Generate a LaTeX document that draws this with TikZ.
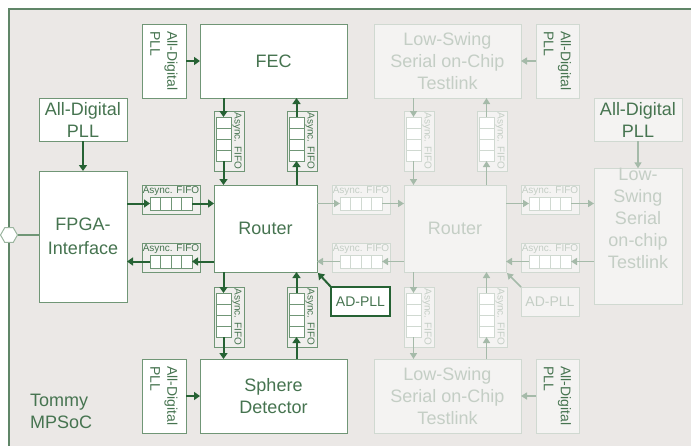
\documentclass[tikz,border=0pt]{standalone}
\usepackage{fontspec}
\setmainfont{Liberation Sans}
\usetikzlibrary{arrows.meta, calc, shapes.geometric}

\definecolor{bgc}{RGB}{235,232,230}
\definecolor{framec}{RGB}{96,134,104}
\definecolor{boxc}{RGB}{112,150,118}
\definecolor{txtc}{RGB}{70,116,80}
\definecolor{arrc}{RGB}{38,98,52}
\definecolor{fifobg}{RGB}{240,239,237}
\definecolor{fboxc}{RGB}{208,217,209}
\definecolor{ftxtc}{RGB}{196,206,197}
\definecolor{ffillc}{RGB}{244,243,242}
\definecolor{farrc}{RGB}{165,186,169}

\tikzset{
  blk/.style={draw=boxc, fill=white, line width=1pt, text=txtc, align=center,
    inner sep=0pt, outer sep=0pt, font=\fontsize{18}{22}\selectfont},
  fblk/.style={blk, draw=fboxc, fill=ffillc, text=ftxtc},
  plltxt/.style={rotate=-90, align=left, text=txtc, inner sep=0pt,
    font=\fontsize{14}{17}\selectfont},
  arr/.style={draw=arrc, line width=2pt, -{Triangle[length=6pt, width=8pt]}},
  farr/.style={draw=farrc, line width=1.6pt, -{Triangle[length=6pt, width=7pt]}},
  fifom/.style={draw=boxc, fill=fifobg, line width=0.8pt, inner sep=0pt, outer sep=0pt},
  fifof/.style={draw=fboxc, fill=ffillc, line width=0.8pt, inner sep=0pt, outer sep=0pt},
  cellm/.style={draw=boxc, fill=white, line width=0.8pt, inner sep=0pt, outer sep=0pt},
  cellf/.style={draw=fboxc, fill=white, line width=0.8pt, inner sep=0pt, outer sep=0pt},
  fifotextm/.style={text=txtc, inner sep=0pt, font=\fontsize{10}{12}\selectfont},
  fifotextf/.style={text=ftxtc, inner sep=0pt, font=\fontsize{10}{12}\selectfont}
}

% vertical fifo: name, left, top, look (m/f)
\newcommand{\vfifo}[4]{%
  \node[fifo#4, minimum width=30pt, minimum height=60pt, anchor=north west] (#1) at (#2,#3) {};
  \node[cell#4, minimum width=15pt, minimum height=44pt, anchor=north west] (#1c) at ($(#1.north west)+(2,6)$) {};
  \foreach \k in {1,2,3} \draw[cell#4] ($(#1c.north west)+(0,11*\k)$) -- ++(15,0);
  \node[fifotext#4, rotate=-90] at ($(#1.east)+(-7,0)$) {Async. FIFO};
}
% horizontal fifo: name, left, top, look (m/f)
\newcommand{\hfifo}[4]{%
  \node[fifo#4, minimum width=58pt, minimum height=29pt, anchor=north west] (#1) at (#2,#3) {};
  \node[cell#4, minimum width=42pt, minimum height=13pt, anchor=north west] (#1c) at ($(#1.north west)+(8,12)$) {};
  \foreach \k in {1,2,3} \draw[cell#4] ($(#1c.north west)+(10.5*\k,0)$) -- ++(0,13);
  \node[fifotext#4] at ($(#1.north)+(0,6.5)$) {Async. FIFO};
}

\begin{document}
\begin{tikzpicture}[x=1pt, y=-1pt]

    % ── Canvas and chip frame ────────────────────────────────────────────────
    \useasboundingbox (0,0) rectangle (691,445);
    \clip (0,0) rectangle (691,445);
    \fill[white] (0,0) rectangle (691,445);
    \filldraw[fill=bgc, draw=framec, line width=2pt] (9,9) rectangle (720,470);

    % ── Active half: blocks ──────────────────────────────────────────────────
    \node[blk, minimum width=147pt, minimum height=74pt] (fec) at (273.5,61) {FEC};
    \node[blk, minimum width=44pt, minimum height=74pt] (pllFec) at (164,61) {};
    \node[plltxt] (pllFecT) at (pllFec) {All-Digital\\PLL};

    \node[blk, minimum width=88pt, minimum height=43pt] (pllFpga) at (83,119.5) {All-Digital\\PLL};
    \node[blk, minimum width=88pt, minimum height=131pt] (fpga) at (83,236.5) {FPGA-\\[2pt]Interface};

    \node[blk, minimum width=103pt, minimum height=87pt] (router) at (265.5,228.5) {Router};

    \node[blk, minimum width=147pt, minimum height=74pt] (sphere) at (273.5,396) {Sphere\\Detector};
    \node[blk, minimum width=44pt, minimum height=74pt] (pllSph) at (164,396) {};
    \node[plltxt] (pllSphT) at (pllSph) {All-Digital\\PLL};

    \node[blk, draw=arrc, line width=1.4pt, minimum width=59pt, minimum height=29pt,
          font=\fontsize{14}{17}\selectfont] (adpll) at (360.5,301.5) {AD-PLL};

    \node[regular polygon, regular polygon sides=6, draw=boxc!70, fill=white,
          line width=1pt, minimum size=17pt, inner sep=0pt] (pin) at (9,235) {};

    \node[anchor=west, align=left, text=txtc, inner sep=0pt,
          font=\fontsize{18}{22}\selectfont] (chip) at (30,411) {Tommy\\MPSoC};

    % ── Active half: fifos ───────────────────────────────────────────────────
    \vfifo{v1}{214}{111}{m}
    \vfifo{v2}{287}{111}{m}
    \vfifo{v3}{214}{287}{m}
    \vfifo{v4}{287}{287}{m}
    \hfifo{h1}{142}{185}{m}
    \hfifo{h2}{142}{243}{m}

    % ── Faded half: blocks ───────────────────────────────────────────────────
    \node[fblk, minimum width=147pt, minimum height=74pt] (lsTop) at (447.5,61) {Low-Swing\\Serial on-Chip\\Testlink};
    \node[fblk, minimum width=43pt, minimum height=74pt] (pllTop) at (557.5,61) {};
    \node[plltxt] (pllTopT) at (pllTop) {All-Digital\\PLL};

    \node[fblk, text=txtc, minimum width=88pt, minimum height=43pt] (pllRight) at (638,119.5) {All-Digital\\PLL};
    \node[fblk, minimum width=88pt, minimum height=131pt] (lsRight) at (638,236.5) {Low-\\Swing\\Serial\\on-chip\\Testlink\\[14pt]};

    \node[fblk, minimum width=102pt, minimum height=87pt] (router2) at (455,228.5) {Router};

    \node[fblk, minimum width=147pt, minimum height=74pt] (lsBot) at (447.5,396) {Low-Swing\\Serial on-Chip\\Testlink};
    \node[fblk, minimum width=43pt, minimum height=74pt] (pllBot) at (557.5,396) {};
    \node[plltxt] (pllBotT) at (pllBot) {All-Digital\\PLL};

    \node[fblk, minimum width=58pt, minimum height=29pt,
          font=\fontsize{14}{17}\selectfont] (adpll2) at (550,301.5) {AD-PLL};

    % ── Faded half: fifos ────────────────────────────────────────────────────
    \vfifo{v5}{404}{111}{f}
    \vfifo{v6}{477}{111}{f}
    \vfifo{v7}{404}{287}{f}
    \vfifo{v8}{477}{287}{f}
    \hfifo{h3}{332}{185}{f}
    \hfifo{h4}{332}{243}{f}
    \hfifo{h5}{521}{185}{f}
    \hfifo{h6}{521}{243}{f}

    % ── Active connectors ────────────────────────────────────────────────────
    \draw[boxc, line width=1.5pt] (pin) -- (pin -| fpga.west);
    \draw[arr] (pllFec) -- (fec.west);
    \draw[arr] (pllFpga) -- (fpga.north);
    \draw[arr] (pllSph) -- (sphere.west);

    \draw[arr] (fec.south -| v1c) -- (v1c.north);
    \draw[arr] (v1c.south) -- (router.north -| v1c);
    \draw[arr] (router.north -| v2c) -- (v2c.south);
    \draw[arr] (v2c.north) -- (fec.south -| v2c);

    \draw[arr] (router.south -| v3c) -- (v3c.north);
    \draw[arr] (v3c.south) -- (sphere.north -| v3c);
    \draw[arr] (sphere.north -| v4c) -- (v4c.south);
    \draw[arr] (v4c.north) -- (router.south -| v4c);

    \draw[arr] (fpga.east |- h1c) -- (h1c.west);
    \draw[arr] (h1c.east) -- (router.west |- h1c);
    \draw[arr] (router.west |- h2c) -- (h2c.east);
    \draw[arr] (h2c.west) -- (fpga.east |- h2c);

    \draw[arr] (adpll.north west) -- ($(router.south east)+(1,1)$);

    % ── Faded connectors ─────────────────────────────────────────────────────
    \draw[farr] (router.east |- h3c) -- (h3c.west);
    \draw[farr] (h3c.east) -- (router2.west |- h3c);
    \draw[farr] (router2.west |- h4c) -- (h4c.east);
    \draw[farr] (h4c.west) -- (router.east |- h4c);

    \draw[farr] (router2.east |- h5c) -- (h5c.west);
    \draw[farr] (h5c.east) -- (lsRight.west |- h5c);
    \draw[farr] (lsRight.west |- h6c) -- (h6c.east);
    \draw[farr] (h6c.west) -- (router2.east |- h6c);

    \draw[farr] (lsTop.south -| v5c) -- (v5c.north);
    \draw[farr] (v5c.south) -- (router2.north -| v5c);
    \draw[farr] (router2.north -| v6c) -- (v6c.south);
    \draw[farr] (v6c.north) -- (lsTop.south -| v6c);

    \draw[farr] (router2.south -| v7c) -- (v7c.north);
    \draw[farr] (v7c.south) -- (lsBot.north -| v7c);
    \draw[farr] (lsBot.north -| v8c) -- (v8c.south);
    \draw[farr] (v8c.north) -- (router2.south -| v8c);

    \draw[farr] (pllTop) -- (lsTop.east);
    \draw[farr] (pllRight) -- (lsRight.north);
    \draw[farr] (pllBot) -- (lsBot.east);
    \draw[farr] (adpll2.north west) -- ($(router2.south east)+(1,1)$);

\end{tikzpicture}
\end{document}
